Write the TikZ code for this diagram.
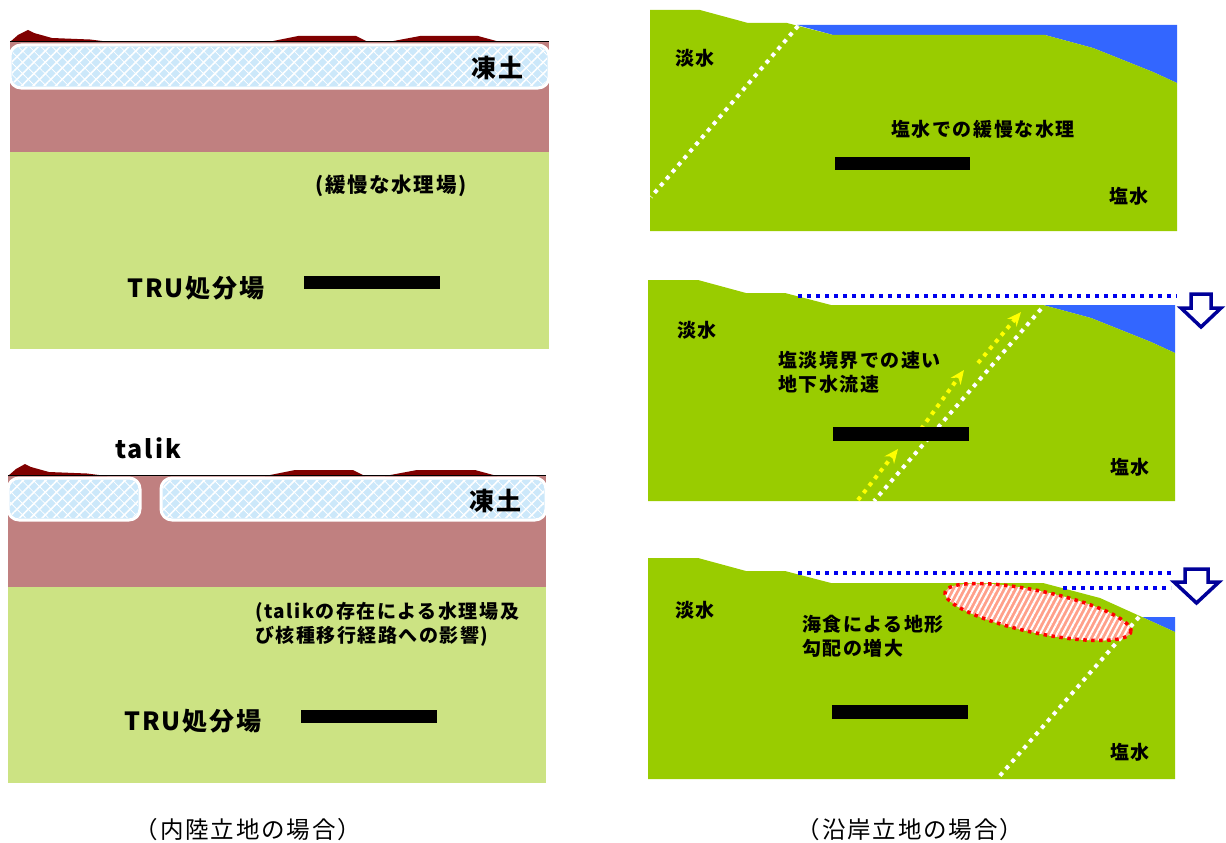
\documentclass[tikz,border=0pt]{standalone}
\usepackage{fontspec}
\setmainfont{Noto Sans CJK JP}
\newfontfamily\jp{Noto Sans CJK JP}[LetterSpace=8]
\usetikzlibrary{patterns.meta,arrows.meta}

\definecolor{frost}{HTML}{CCE8FA}
\definecolor{clay}{HTML}{C08080}
\definecolor{meadow}{HTML}{CCE383}
\definecolor{grass}{HTML}{99CC00}
\definecolor{sea}{HTML}{3366FF}
\definecolor{ridge}{HTML}{800000}
\definecolor{deepnavy}{HTML}{000099}
\definecolor{dotblue}{HTML}{0000EE}
\definecolor{erosion}{HTML}{FFA08A}
\definecolor{flowyellow}{HTML}{FFFF00}

\tikzset{
  label/.style={font=\jp\bfseries\fontsize{19}{24}\selectfont, inner sep=0pt},
  midlabel/.style={font=\jp\bfseries\fontsize{20.5}{25}\selectfont, inner sep=0pt},
  biglabel/.style={font=\jp\bfseries\fontsize{25}{30}\selectfont, inner sep=0pt},
  caption/.style={font=\jp\fontsize{23.5}{28}\selectfont, inner sep=0pt},
  icebox/.style={fill=frost, draw=white, line width=3pt, rounded corners=11pt},
  icehatch/.style={pattern={Lines[angle=45,distance=8pt,line width=1.6pt]}, pattern color=white},
  icehatchb/.style={pattern={Lines[angle=-45,distance=8pt,line width=0.8pt]}, pattern color=white},
  repository/.style={fill=black},
  wdots/.style={draw=white, line width=4pt, dash pattern=on 4pt off 5pt},
  bdots/.style={draw=dotblue, line width=4pt, dash pattern=on 4pt off 5pt},
  ydots/.style={draw=flowyellow, line width=4pt, dash pattern=on 4pt off 5pt,
                -{Stealth[length=14pt,width=12pt]}},
  hollowarrow/.style={draw=deepnavy, fill=white, line width=3.5pt, line join=miter},
}

\begin{document}
\begin{tikzpicture}[x=1pt,y=-1pt]
\useasboundingbox (0,0) rectangle (1226,843);

% ---------------- inland site, permafrost intact ----------------
\fill[clay] (10,42) rectangle (549,152);
\fill[meadow] (10,152) rectangle (549,349);
\fill[ridge] (10,42) -- (18,35) -- (28,30) -- (34,33) -- (52,38) -- (90,39.5) -- (110,42) -- cycle;
\fill[ridge] (268,42) -- (298,36) -- (356,36) -- (368,42) -- cycle;
\fill[ridge] (388,42) -- (420,36) -- (478,36) -- (500,42) -- cycle;
\draw[black, line width=1.6pt] (10,41.5) -- (549,41.5);
\path[icebox] (10,45) rectangle (549,88);
\fill[icehatch, rounded corners=9pt] (12,47) rectangle (547,86);
\fill[icehatchb, rounded corners=9pt] (12,47) rectangle (547,86);
\node[biglabel] (frozenA) at (497,68) {凍土};
\node[midlabel] (slowA) at (391,186) {(緩慢な水理場)};
\node[biglabel] (truA) at (196,288) {TRU処分場};
\fill[repository] (304,276) rectangle (440,289);

% ---------------- inland site, with talik ----------------
\fill[clay] (8,476) rectangle (546,587);
\fill[meadow] (8,587) rectangle (546,783);
\fill[ridge] (8,476) -- (16,469) -- (25,464) -- (31,467) -- (49,472) -- (87,473.5) -- (107,476) -- cycle;
\fill[ridge] (265,476) -- (295,470) -- (353,470) -- (365,476) -- cycle;
\fill[ridge] (385,476) -- (417,470) -- (475,470) -- (497,476) -- cycle;
\draw[black, line width=1.6pt] (8,475.5) -- (546,475.5);
\path[icebox] (8,478) rectangle (140,520);
\fill[icehatch, rounded corners=9pt] (10,480) rectangle (138,518);
\fill[icehatchb, rounded corners=9pt] (10,480) rectangle (138,518);
\path[icebox] (161,478) rectangle (546,520);
\fill[icehatch, rounded corners=9pt] (163,480) rectangle (544,518);
\fill[icehatchb, rounded corners=9pt] (163,480) rectangle (544,518);
\node[biglabel] (talik) at (148,448) {talik};
\node[biglabel] (frozenB) at (495,501) {凍土};
\node[label, anchor=west, align=left] (talikeffect) at (255,624)
  {(talikの存在による水理場及\\び核種移行経路への影響)};
\node[biglabel] (truB) at (193,721) {TRU処分場};
\fill[repository] (301,710) rectangle (437,723);

\node[caption] (inland) at (248,830) {（内陸立地の場合）};

% ---------------- coastal site, present sea level ----------------
\fill[sea] (797,25) -- (1177,25) -- (1177,83) -- (1153,72) -- (1093,48) -- (1045,35) -- (833,35) -- cycle;
\fill[grass] (650,10) -- (700,10) -- (748,23) -- (787,23) -- (833,35) -- (1045,35)
  -- (1093,48) -- (1153,72) -- (1177,83) -- (1177,231) -- (650,231) -- cycle;
\coordinate (ifaceAtop) at (798,26);
\coordinate (ifaceAbot) at (651,197);
\draw[wdots] (ifaceAtop) -- (ifaceAbot);
\node[label] (freshA) at (695,58) {淡水};
\node[label] (slowsalt) at (983,129) {塩水での緩慢な水理};
\node[label] (salineA) at (1129,196) {塩水};
\fill[repository] (835,157) rectangle (970,170);

% ---------------- coastal site, sea level lowered ----------------
\fill[sea] (1043,305) -- (1175,305) -- (1175,353) -- (1151,342) -- (1091,318) -- cycle;
\fill[grass] (648,280) -- (698,280) -- (746,293) -- (785,293) -- (831,305) -- (1043,305)
  -- (1091,318) -- (1151,342) -- (1175,353) -- (1175,501) -- (648,501) -- cycle;
\coordinate (lvlBa) at (798,296);
\coordinate (lvlBb) at (1177,296);
\draw[bdots] (lvlBa) -- (lvlBb);
\coordinate (ifaceBtop) at (1041,309);
\coordinate (ifaceBbot) at (874,501);
\draw[wdots] (ifaceBtop) -- (ifaceBbot);
\coordinate (flow1a) at (858,500);
\coordinate (flow1b) at (898,449);
\coordinate (flow2a) at (921,429);
\coordinate (flow2b) at (964,370);
\coordinate (flow3a) at (978,363);
\coordinate (flow3b) at (1021,312);
\draw[ydots] (flow1a) -- (flow1b);
\draw[ydots] (flow2a) -- (flow2b);
\draw[ydots] (flow3a) -- (flow3b);
\fill[repository] (833,427) rectangle (969,441);
\node[label] (freshB) at (697,330) {淡水};
\node[label, anchor=west, align=left] (fastflow) at (778,372) {塩淡境界での速い\\地下水流速};
\node[label] (salineB) at (1130,467) {塩水};
\draw[hollowarrow] (1191,294) -- (1211,294) -- (1211,308) -- (1221,308) -- (1201,327)
  -- (1181,308) -- (1191,308) -- cycle;

% ---------------- coastal site, sea level lowered with coastal erosion ----------------
\fill[sea] (1142,617) -- (1175,617) -- (1175,632) -- cycle;
\fill[grass] (648,558) -- (698,558) -- (746,571) -- (785,571) -- (831,583) -- (1043,583)
  -- (1100,598) -- (1142,617) -- (1175,632) -- (1175,779) -- (648,779) -- cycle;
\coordinate (lvlCa) at (798,573);
\coordinate (lvlCb) at (1171,573);
\coordinate (lvlCc) at (1063,588);
\coordinate (lvlCd) at (1171,588);
\draw[bdots] (lvlCa) -- (lvlCb);
\draw[bdots] (lvlCc) -- (lvlCd);
\coordinate (ifaceCtop) at (1139,617);
\coordinate (ifaceCbot) at (997,779);
\draw[wdots] (ifaceCtop) -- (ifaceCbot);
\begin{scope}[rotate around={-12:(1038,612)}]
  \fill[erosion] (1038,612) ellipse [x radius=95pt, y radius=21pt];
  \fill[pattern={Lines[angle=62,distance=5pt,line width=2pt]}, pattern color=white]
    (1038,612) ellipse [x radius=95pt, y radius=21pt];
  \draw[red, line width=3.5pt, dash pattern=on 3.5pt off 4.5pt]
    (1038,612) ellipse [x radius=95pt, y radius=21pt];
\end{scope}
\fill[repository] (832,705) rectangle (968,719);
\node[label] (freshC) at (695,610) {淡水};
\node[label, anchor=west, align=left] (erosiontext) at (802,636) {海食による地形\\勾配の増大};
\node[label] (salineC) at (1130,752) {塩水};
\draw[hollowarrow] (1185,569) -- (1208,569) -- (1208,582) -- (1219,582) -- (1196.5,603)
  -- (1174,582) -- (1185,582) -- cycle;

\node[caption] (coastal) at (910,830) {（沿岸立地の場合）};
\end{tikzpicture}
\end{document}
